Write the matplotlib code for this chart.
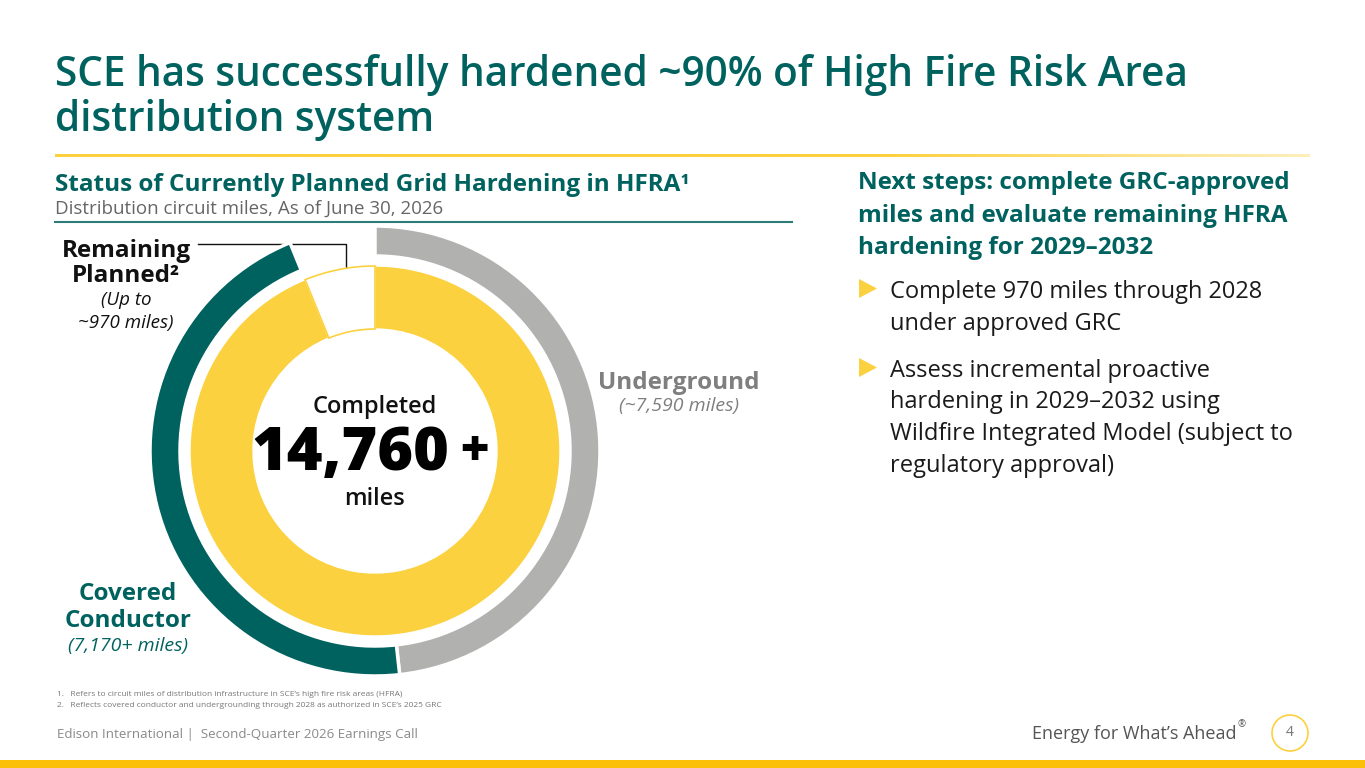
import numpy as np
import matplotlib
matplotlib.use("Agg")
import matplotlib.pyplot as plt
from matplotlib.patches import Circle, Polygon

plt.rcParams['font.family'] = ['Open Sans', 'DejaVu Sans']

TEAL = '#00625F'
YELLOW = '#FCD13F'
GRAY = '#B1B1B0'
GOLD = '#FBC10A'

# outer ring: Underground, Covered Conductor, Remaining Planned
outer_labels = ['Underground', 'Covered Conductor', 'Remaining Planned']
outer_miles = [7590, 7170, 970]
# inner ring: Completed vs Remaining
inner_labels = ['Completed', 'Remaining']
inner_miles = [14760, 970]

bullets = [
    ['Complete 970 miles through 2028', 'under approved GRC'],
    ['Assess incremental proactive', 'hardening in 2029\u20132032 using',
     'Wildfire Integrated Model (subject to', 'regulatory approval)'],
]

W, H = 1365, 768
fig = plt.figure(figsize=(W / 100, H / 100), dpi=100)
bg = fig.add_axes([0, 0, 1, 1])
bg.axis('off')

# --- header ---
bg.text(55, 86, 'SCE has successfully hardened ~90% of High Fire Risk Area',
        fontsize=29.2, fontweight='semibold', color=TEAL, va='baseline')
bg.text(55, 131, 'distribution system', fontsize=29.2, fontweight='semibold',
        color=TEAL, va='baseline')

# gold rule fading to the right
grad = np.ones((1, 300, 4))
grad[..., :3] = matplotlib.colors.to_rgb(YELLOW)
grad[..., 3] = np.concatenate([np.ones(200), np.linspace(1, 0.35, 100)])
bg.imshow(grad, extent=(55, 1310, 157, 154), aspect='auto', zorder=1)
bg.set_xlim(0, W)
bg.set_ylim(H, 0)

bg.text(55, 191, 'Status of Currently Planned Grid Hardening in HFRA\u00b9',
        fontsize=17.5, fontweight='bold', color=TEAL, va='baseline')
bg.text(55, 214, 'Distribution circuit miles, As of June 30, 2026',
        fontsize=13.5, color='#666666', va='baseline')
bg.plot([55, 792], [222, 222], color='#2E7C7A', lw=1.5)

# --- right column ---
for i, line in enumerate(['Next steps: complete GRC-approved',
                          'miles and evaluate remaining HFRA',
                          'hardening for 2029\u20132032']):
    bg.text(858, 189 + i * 32.5, line, fontsize=17.5, fontweight='bold',
            color=TEAL, va='baseline')

y = 298
for item in bullets:
    bg.add_patch(Polygon([[859, y - 19], [859, y], [877, y - 9.5]],
                         closed=True, color=YELLOW, lw=0))
    for line in item:
        bg.text(890, y, line, fontsize=17, color='#1A1A1A', va='baseline')
        y += 31.5
    y += 16

# --- donut ---
cx, cy, R = 375, 451, 225
half = 232
ax = fig.add_axes([(cx - half) / W, (H - cy - half) / H, 2 * half / W, 2 * half / H])
w_out, _ = ax.pie(outer_miles, radius=1.0, startangle=90, counterclock=False,
                  colors=[GRAY, TEAL, 'none'],
                  wedgeprops=dict(width=30 / R, edgecolor='white', linewidth=2.5))
w_out[2].set_edgecolor('none')
w_in, _ = ax.pie(inner_miles, radius=185 / R, startangle=90, counterclock=False,
                 colors=[YELLOW, 'white'],
                 wedgeprops=dict(width=63 / R, edgecolor='white', linewidth=1))
w_in[1].set_edgecolor(YELLOW)
w_in[1].set_linewidth(1.2)
ax.set_xlim(-half / R, half / R)
ax.set_ylim(-half / R, half / R)
ax.set_aspect('equal')
ax.axis('off')

# donut annotations
bg.text(126, 257, 'Remaining', fontsize=17.5, fontweight='bold', color='#111111',
        ha='center', va='baseline')
bg.text(126, 282, 'Planned\u00b2', fontsize=17.5, fontweight='bold', color='#111111',
        ha='center', va='baseline')
bg.text(126, 305, '(Up to', fontsize=13.5, style='italic', color='#111111',
        ha='center', va='baseline')
bg.text(126, 328, '~970 miles)', fontsize=13.5, style='italic', color='#111111',
        ha='center', va='baseline')
bg.plot([198, 346, 346], [244, 244, 270], color='#111111', lw=1, zorder=5)

bg.text(679, 389, 'Underground', fontsize=17.5, fontweight='bold', color='#7F7F7F',
        ha='center', va='baseline')
bg.text(679, 411, '(~7,590 miles)', fontsize=14, style='italic', color='#7F7F7F',
        ha='center', va='baseline')

bg.text(128, 600, 'Covered', fontsize=17.5, fontweight='bold', color=TEAL,
        ha='center', va='baseline')
bg.text(128, 627, 'Conductor', fontsize=17.5, fontweight='bold', color=TEAL,
        ha='center', va='baseline')
bg.text(128, 651, '(7,170+ miles)', fontsize=14, style='italic', color=TEAL,
        ha='center', va='baseline')

bg.text(375, 413, inner_labels[0], fontsize=17, fontweight='semibold', color='#111111',
        ha='center', va='baseline', zorder=6)
bg.text(350, 470, f'{inner_miles[0]:,}', fontsize=44, fontweight='heavy',
        color='#000000', ha='center', va='baseline', zorder=6)
bg.text(474, 466, '+', fontsize=36, fontweight='heavy', color='#000000',
        ha='center', va='baseline', zorder=6)
bg.text(375, 505, 'miles', fontsize=17, fontweight='semibold', color='#111111',
        ha='center', va='baseline', zorder=6)

# --- footnotes & footer ---
bg.text(57, 696, '1.   Refers to circuit miles of distribution infrastructure in SCE\u2019s high fire risk areas (HFRA)',
        fontsize=6, color='#777777', va='baseline')
bg.text(57, 707, '2.   Reflects covered conductor and undergrounding through 2028 as authorized in SCE\u2019s 2025 GRC',
        fontsize=6, color='#777777', va='baseline')
bg.text(57, 738, 'Edison International |  Second-Quarter 2026 Earnings Call',
        fontsize=9.6, color='#8A8A8A', va='baseline')
bg.text(1236, 739, 'Energy for What\u2019s Ahead', fontsize=13, color='#555555',
        ha='right', va='baseline')
bg.text(1238, 727, '\u00ae', fontsize=7, color='#555555', ha='left', va='baseline')
bg.add_patch(Circle((1290, 733), 18, facecolor='white', edgecolor=YELLOW, lw=1.2))
bg.text(1290, 733, '4', fontsize=10, color='#777777', ha='center', va='center')
bg.add_patch(plt.Rectangle((0, 760), W, 8, color=GOLD, lw=0))

fig.savefig('out.png', dpi=100)
